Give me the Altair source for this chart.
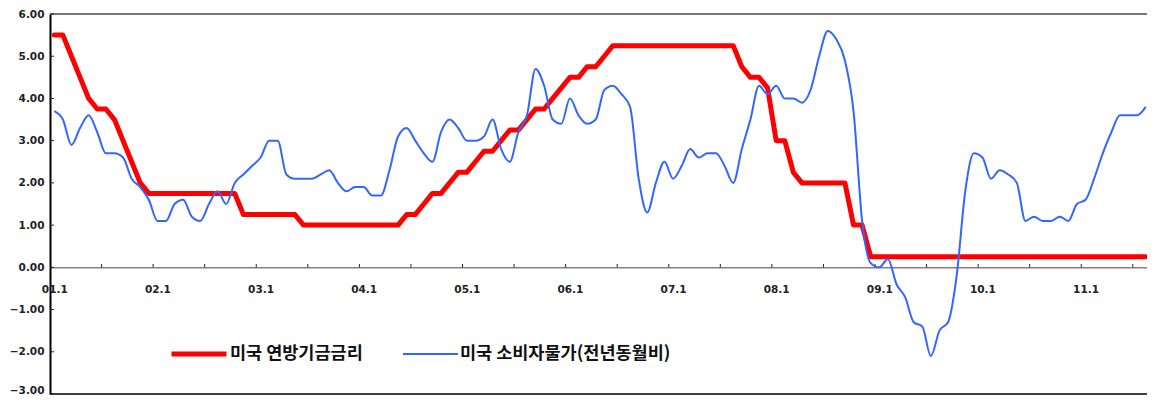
import altair as alt
import pandas as pd

S_FED = "미국 연방기금금리"
S_CPI = "미국 소비자물가(전년동월비)"

# Monthly values, Jan 2001 .. Aug 2011
fed = [
    5.5, 5.5, 5.0, 4.5, 4.0, 3.75, 3.75, 3.5, 3.0, 2.5, 2.0, 1.75,          # 2001
    1.75, 1.75, 1.75, 1.75, 1.75, 1.75, 1.75, 1.75, 1.75, 1.75, 1.25, 1.25,  # 2002
    1.25, 1.25, 1.25, 1.25, 1.25, 1.0, 1.0, 1.0, 1.0, 1.0, 1.0, 1.0,        # 2003
    1.0, 1.0, 1.0, 1.0, 1.0, 1.25, 1.25, 1.5, 1.75, 1.75, 2.0, 2.25,        # 2004
    2.25, 2.5, 2.75, 2.75, 3.0, 3.25, 3.25, 3.5, 3.75, 3.75, 4.0, 4.25,     # 2005
    4.5, 4.5, 4.75, 4.75, 5.0, 5.25, 5.25, 5.25, 5.25, 5.25, 5.25, 5.25,    # 2006
    5.25, 5.25, 5.25, 5.25, 5.25, 5.25, 5.25, 5.25, 4.75, 4.5, 4.5, 4.25,   # 2007
    3.0, 3.0, 2.25, 2.0, 2.0, 2.0, 2.0, 2.0, 2.0, 1.0, 1.0, 0.25,           # 2008
    0.25, 0.25, 0.25, 0.25, 0.25, 0.25, 0.25, 0.25, 0.25, 0.25, 0.25, 0.25, # 2009
    0.25, 0.25, 0.25, 0.25, 0.25, 0.25, 0.25, 0.25, 0.25, 0.25, 0.25, 0.25, # 2010
    0.25, 0.25, 0.25, 0.25, 0.25, 0.25, 0.25, 0.25,                         # 2011
]
cpi = [
    3.7, 3.5, 2.9, 3.3, 3.6, 3.2, 2.7, 2.7, 2.6, 2.1, 1.9, 1.6,             # 2001
    1.1, 1.1, 1.5, 1.6, 1.2, 1.1, 1.5, 1.8, 1.5, 2.0, 2.2, 2.4,             # 2002
    2.6, 3.0, 3.0, 2.2, 2.1, 2.1, 2.1, 2.2, 2.3, 2.0, 1.8, 1.9,             # 2003
    1.9, 1.7, 1.7, 2.3, 3.1, 3.3, 3.0, 2.7, 2.5, 3.2, 3.5, 3.3,             # 2004
    3.0, 3.0, 3.1, 3.5, 2.8, 2.5, 3.2, 3.6, 4.7, 4.3, 3.5, 3.4,             # 2005
    4.0, 3.6, 3.4, 3.5, 4.2, 4.3, 4.1, 3.8, 2.1, 1.3, 2.0, 2.5,             # 2006
    2.1, 2.4, 2.8, 2.6, 2.7, 2.7, 2.4, 2.0, 2.8, 3.5, 4.3, 4.1,             # 2007
    4.3, 4.0, 4.0, 3.9, 4.2, 5.0, 5.6, 5.4, 4.9, 3.7, 1.1, 0.1,             # 2008
    0.0, 0.2, -0.4, -0.7, -1.3, -1.4, -2.1, -1.5, -1.3, -0.2, 1.8, 2.7,     # 2009
    2.6, 2.1, 2.3, 2.2, 2.0, 1.1, 1.2, 1.1, 1.1, 1.2, 1.1, 1.5,             # 2010
    1.6, 2.1, 2.7, 3.2, 3.6, 3.6, 3.6, 3.8,                                 # 2011
]
x_tick_labels = ["01.1", "02.1", "03.1", "04.1", "05.1", "06.1",
                 "07.1", "08.1", "09.1", "10.1", "11.1"]
y_ticks = [-3, -2, -1, 0, 1, 2, 3, 4, 5, 6]

months = list(range(len(fed)))
df = pd.DataFrame({
    "idx": months + months,
    "value": fed + cpi,
    "series": [S_FED] * len(fed) + [S_CPI] * len(cpi),
})
label_idx = [12 * i for i in range(len(x_tick_labels))]
# category-boundary ticks every 6 months
xtick_df = pd.DataFrame({"idx": [m - 0.5 for m in months if m % 6 == 0 and m > 0]})
ytick_df = pd.DataFrame({"v": y_ticks})

W, H = 1097, 380
Y_MIN, Y_MAX = -3, 6
zero_offset = -(H * (0 - Y_MIN) / (Y_MAX - Y_MIN))

FONT = "DejaVu Sans"
js_labels = "[" + ",".join("'" + s + "'" for s in x_tick_labels) + "]"

x_scale = alt.Scale(domain=[-0.5, 127.15], nice=False, zero=False)
y_scale = alt.Scale(domain=[Y_MIN, Y_MAX], nice=False)

x_enc = alt.X("idx:Q", scale=x_scale, title=None,
              axis=alt.Axis(values=label_idx, labelExpr=js_labels + "[round(datum.value/12)]",
                            ticks=False, tickSize=0, grid=False, domain=True,
                            domainColor="#444", domainWidth=1, offset=zero_offset,
                            labelPadding=17, labelFont=FONT, labelFontSize=10.5,
                            labelFontWeight="bold", labelColor="#222"))
y_enc = alt.Y("value:Q", scale=y_scale, title=None,
              axis=alt.Axis(values=y_ticks, format=".2f", grid=False,
                            domainColor="black", domainWidth=2,
                            ticks=False, tickSize=0, labelPadding=6,
                            labelOffset={"condition": {"test": "datum.value == -3", "value": -4},
                                         "value": 0},
                            labelFont=FONT, labelFontSize=10.5, labelFontWeight="bold",
                            labelColor="#222"))

color_scale = alt.Scale(domain=[S_FED, S_CPI], range=["#FF0000", "#3366FF"])
sw_scale = alt.Scale(domain=[S_FED, S_CPI], range=[5, 2])
legend = alt.Legend(orient="none", legendX=119, legendY=310, direction="horizontal",
                    title=None, symbolType="stroke", symbolSize=3025,
                    labelFont="Noto Sans CJK KR", labelFontSize=17.5, labelFontWeight="bold",
                    labelColor="#111", labelOffset=1, columnPadding=36, labelLimit=500,
                    padding=0)

base = alt.Chart(df)
red = base.transform_filter(alt.datum.series == S_FED).mark_line(
    strokeJoin="round", strokeCap="round", clip=True
).encode(
    x=x_enc, y=y_enc,
    color=alt.Color("series:N", scale=color_scale, legend=legend),
    strokeWidth=alt.StrokeWidth("series:N", scale=sw_scale, legend=legend),
)
blue = base.transform_filter(alt.datum.series == S_CPI).mark_line(
    interpolate="monotone", clip=True
).encode(
    x=x_enc, y=y_enc,
    color=alt.Color("series:N", scale=color_scale, legend=legend),
    strokeWidth=alt.StrokeWidth("series:N", scale=sw_scale, legend=legend),
)
xticks = alt.Chart(xtick_df).mark_rule(color="#222", strokeWidth=1).encode(
    x=alt.X("idx:Q", scale=x_scale),
    y=alt.datum(0),
    y2=alt.datum(0.08),
)
yticks = alt.Chart(ytick_df).mark_rule(color="#222", strokeWidth=1).encode(
    y=alt.Y("v:Q", scale=y_scale),
    x=alt.value(0),
    x2=alt.value(4),
)
# frame: grey top edge and black bottom edge (no right edge visible in the reference)
top_edge = alt.Chart(pd.DataFrame({"v": [Y_MAX]})).mark_rule(
    color="#777", strokeWidth=2
).encode(y=alt.Y("v:Q", scale=y_scale), x=alt.value(0), x2=alt.value(W))
bottom_edge = alt.Chart(pd.DataFrame({"v": [Y_MIN]})).mark_rule(
    color="black", strokeWidth=1.5
).encode(y=alt.Y("v:Q", scale=y_scale), x=alt.value(0), x2=alt.value(W))

chart = alt.layer(top_edge, bottom_edge, xticks, yticks, red, blue).properties(
    width=W, height=H,
    autosize=alt.AutoSizeParams(type="none"),
    padding={"left": 42, "top": 6, "right": 0, "bottom": 1},
    background="white",
).configure_view(strokeWidth=0)

chart.save("out.html", embed_options={"renderer": "svg", "actions": False})
